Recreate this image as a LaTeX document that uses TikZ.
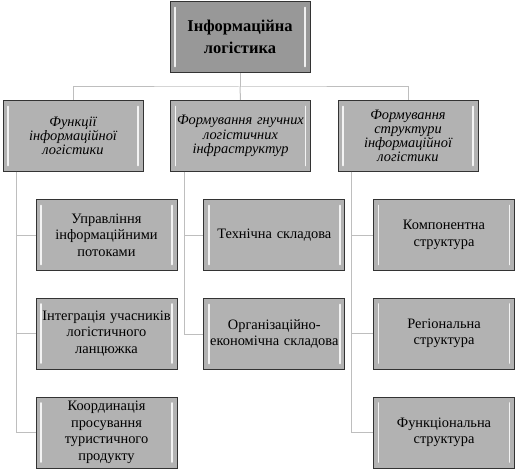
\documentclass[tikz,border=0pt]{standalone}
\usepackage{fontspec}
\setmainfont{Liberation Serif}
\usepackage{tikz}
\definecolor{boxgray}{RGB}{178,178,178}
\definecolor{topgray}{RGB}{152,152,152}
\definecolor{linkgray}{RGB}{190,190,190}
\tikzset{basic/.style={draw=black!80,line width=1pt,fill=boxgray,
                       align=center,minimum width=140pt,minimum height=71pt,
                       inner sep=1pt,
                       path picture={
                         \draw[white,line width=1.6pt,line cap=round,opacity=.85]
                           ([xshift=5pt,yshift=-6pt]path picture bounding box.north west)
                           -- ([xshift=5pt,yshift=6pt]path picture bounding box.south west);
                         \draw[white,line width=1.6pt,line cap=round,opacity=.85]
                           ([xshift=-5pt,yshift=-6pt]path picture bounding box.north east)
                           -- ([xshift=-5pt,yshift=6pt]path picture bounding box.south east);}}}
\tikzset{link/.style={draw=linkgray,line width=1pt}}
\begin{document}
\begin{tikzpicture}[x=1pt,y=-1pt,
    % styles for clarity
    head/.style ={basic,fill=topgray,font=\fontsize{16.5}{22}\selectfont\bfseries},
    group/.style={basic,text width=138pt,font=\fontsize{14.4}{14.2}\selectfont\itshape},
    item/.style ={basic,text width=139pt,font=\fontsize{14.4}{16.5}\selectfont}
  ]
    \useasboundingbox (0,0) rectangle (516,470);

    \node[head](top) at (240,37) {Інформаційна\\логістика};

    \node[group](fun) at (73,136)   {Функції\\інформаційної\\логістики};
    \node[group](inf) at (240.5,136) {Формування гнучних\\логістичних\\інфраструктур};
    \node[group](str) at (408,136)  {Формування\\структури\\інформаційної\\логістики};

    \node[item](flow) at (106.5,235)   {Управління\\інформаційними\\потоками};
    \node[item](chain) at (106.5,333.5) {Інтеграція учасників\\логістичного\\ланцюжка};
    \node[item](tour) at (106.5,432.5)  {Координація\\просування\\туристичного\\продукту};

    \node[item](tech) at (274.3,235) {Технічна складова};
    \node[item](org) at (274.3,334)  {Організаційно-\\економічна складова};

    \node[item](comp) at (444,235)   {Компонентна\\структура};
    \node[item](reg) at (444,333.5)  {Регіональна\\структура};
    \node[item](func) at (444,432.5) {Функціональна\\структура};

    \coordinate (bus) at (240,87);
    \draw[link] (top.south) -- (bus);
    \draw[link] (fun.north) |- (bus) -| (str.north);
    \draw[link] (bus) -- (inf.north);

    \draw[link] ([xshift=14pt]fun.south west) |- (tour.west);
    \draw[link] ([xshift=14pt]fun.south west) |- (flow.west);
    \draw[link] ([xshift=14pt]fun.south west) |- (chain.west);

    \draw[link] ([xshift=14pt]inf.south west) |- (org.west);
    \draw[link] ([xshift=14pt]inf.south west) |- (tech.west);

    \draw[link] ([xshift=14pt]str.south west) |- (func.west);
    \draw[link] ([xshift=14pt]str.south west) |- (comp.west);
    \draw[link] ([xshift=14pt]str.south west) |- (reg.west);
  \end{tikzpicture}
\end{document}
